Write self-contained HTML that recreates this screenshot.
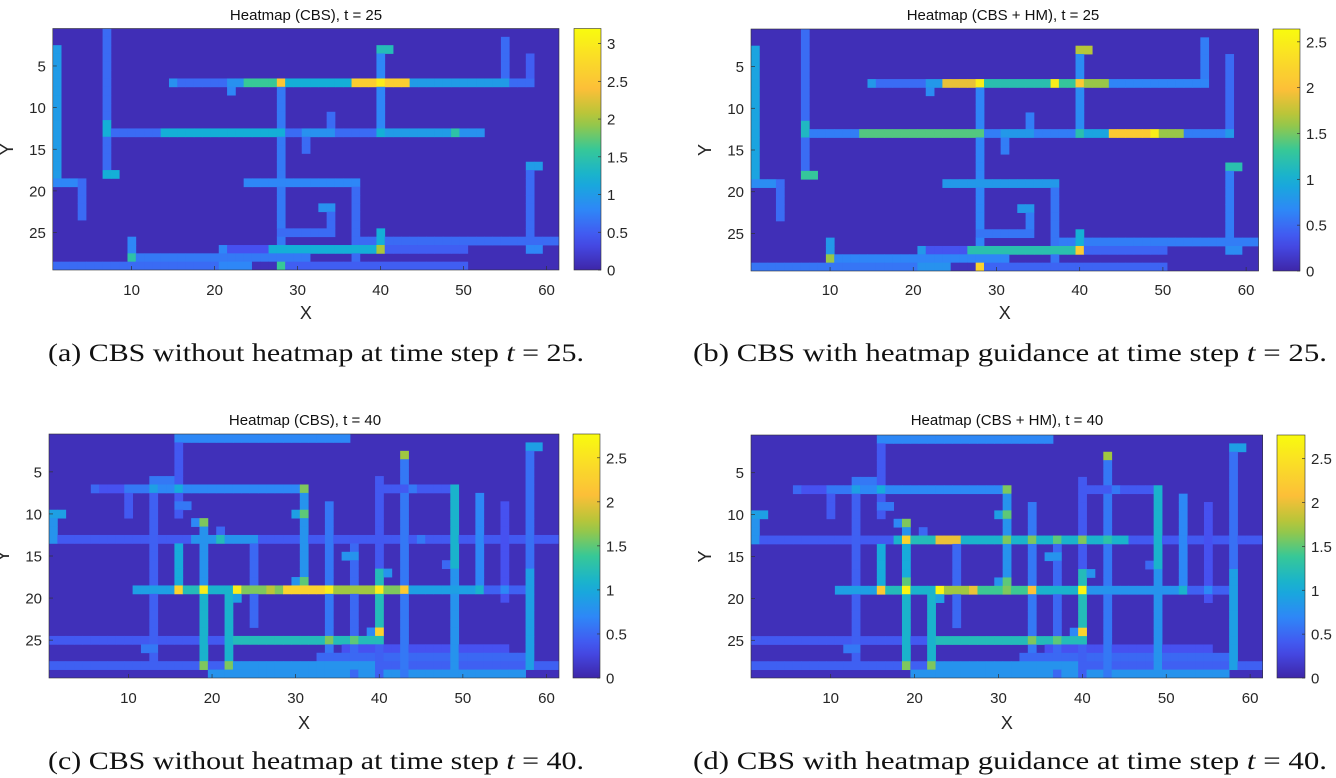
<!DOCTYPE html>
<html><head><meta charset="utf-8">
<style>
html,body{margin:0;padding:0;background:#fff;}
svg{display:block;}
text{font-family:"Liberation Sans",Arial,sans-serif;}
.cap{font-family:"Liberation Serif",serif;font-size:25px;fill:#111;}
</style></head>
<body>
<svg id="fig" width="1336" height="778" viewBox="0 0 1336 778" xmlns="http://www.w3.org/2000/svg">
<text class="cap" x="48" y="361" textLength="536" lengthAdjust="spacingAndGlyphs">(a) CBS without heatmap at time step <tspan font-style="italic">t</tspan> = 25.</text>
<text class="cap" x="693" y="361" textLength="634" lengthAdjust="spacingAndGlyphs">(b) CBS with heatmap guidance at time step <tspan font-style="italic">t</tspan> = 25.</text>
<text class="cap" x="48" y="769" textLength="536" lengthAdjust="spacingAndGlyphs">(c) CBS without heatmap at time step <tspan font-style="italic">t</tspan> = 40.</text>
<text class="cap" x="693" y="769" textLength="634" lengthAdjust="spacingAndGlyphs">(d) CBS with heatmap guidance at time step <tspan font-style="italic">t</tspan> = 40.</text>
</svg>
<script>
// ---- data: segments [x1,y1,x2,y2,value]; later entries paint over earlier ----
const xTicks = [10,20,30,40,50,60];
const yTicks = [5,10,15,20,25];
const titles = ["Heatmap (CBS), t = 25","Heatmap (CBS + HM), t = 25","Heatmap (CBS), t = 40","Heatmap (CBS + HM), t = 40"];
const cbarMax = [3.2,2.64,2.77,2.77];
const cbarTicksA = [0,0.5,1,1.5,2,2.5,3];
const cbarTicksB = [0,0.5,1,1.5,2,2.5];
const cbarTicksC = [0,0.5,1,1.5,2,2.5];
const cbarTicksD = [0,0.5,1,1.5,2,2.5];
const bgValue = [0.08,0.07,0.08,0.08];

const segsA = [
[1,3,1,19,1.0],[1,19,4,19,0.8],[4,19,4,23,0.6],
[7,1,7,18,0.6],[7,12,7,13,1.2],[7,18,8,18,1.2],
[15,7,15,7,0.9],[16,7,21,7,0.6],[22,7,23,7,0.9],[22,8,22,8,0.8],[24,7,27,7,1.6],[28,7,28,7,2.5],[29,7,36,7,1.2],[37,7,39,7,2.6],[40,7,40,7,3.0],[41,7,43,7,2.6],[44,7,55,7,1.0],[56,7,58,7,0.6],
[55,2,55,6,0.6],[58,4,58,6,0.5],
[40,3,40,6,0.8],[40,8,40,12,0.8],[40,3,41,3,1.4],
[28,8,28,29,0.7],
[8,13,13,13,0.6],[14,13,28,13,1.2],[29,13,30,13,0.6],[31,13,34,13,0.9],[35,13,39,13,0.6],[40,13,40,13,1.2],[41,13,48,13,1.0],[49,13,49,13,1.5],[50,13,52,13,0.9],
[34,11,34,12,0.6],[31,14,31,15,0.6],
[24,19,37,19,0.8],[37,20,37,29,0.6],
[58,17,58,27,0.6],[58,17,59,17,1.0],[58,27,59,27,0.8],
[34,22,34,25,0.6],[33,22,34,22,0.9],[28,25,34,25,0.6],
[38,26,61,26,0.6],
[21,27,21,27,0.8],[22,27,26,27,0.4],[27,27,39,27,1.2],[41,27,50,27,0.5],
[40,25,40,26,1.2],[40,27,40,27,2.0],
[10,26,10,27,0.8],[10,28,10,28,1.5],[11,28,31,28,0.7],
[1,29,20,29,0.6],[21,29,24,29,0.8],[25,29,27,29,0.1],[28,29,28,29,1.6],[29,29,50,29,0.5]
];
const segsB = [
[1,3,1,19,0.9],[1,19,4,19,0.7],[4,19,4,23,0.5],
[7,1,7,18,0.5],[7,12,7,13,1.1],[7,18,8,18,1.3],
[15,7,15,7,0.8],[16,7,21,7,0.5],[22,7,23,7,0.8],[22,8,22,8,0.7],[24,7,27,7,1.9],[28,7,28,7,2.5],[29,7,36,7,1.2],[37,7,37,7,2.5],[38,7,39,7,1.3],[40,7,40,7,2.1],[41,7,43,7,1.6],[44,7,55,7,0.65],
[55,2,55,6,0.6],[58,4,58,13,0.5],
[40,3,40,6,0.7],[40,8,40,12,0.7],[40,3,41,3,1.7],
[28,8,28,29,0.65],
[8,13,13,13,0.6],[14,13,28,13,1.4],[29,13,30,13,0.6],[31,13,34,13,0.8],[35,13,39,13,0.6],[40,13,40,13,1.2],[41,13,43,13,0.9],[44,13,48,13,2.1],[49,13,49,13,2.5],[50,13,52,13,1.6],[53,13,57,13,0.6],[58,13,58,13,0.8],
[34,11,34,12,0.6],[31,14,31,15,0.6],
[24,19,37,19,0.8],[37,20,37,29,0.55],
[58,17,58,27,0.6],[58,17,59,17,1.2],[58,27,59,27,0.7],
[34,22,34,25,0.6],[33,22,34,22,0.8],[28,25,34,25,0.55],
[38,26,61,26,0.6],
[21,27,21,27,0.8],[22,27,26,27,0.35],[27,27,39,27,1.2],[41,27,50,27,0.45],
[40,25,40,26,1.0],[40,27,40,27,2.1],
[10,26,10,27,0.8],[10,28,10,28,1.6],[11,28,31,28,0.65],
[1,29,20,29,0.55],[21,29,24,29,0.75],[25,29,27,29,0.1],[28,29,28,29,2.2],[29,29,50,29,0.45]
];
const segsC = [
[1,28,61,28,0.45],[36,26,55,26,0.35],[33,27,58,27,0.5],[20,29,57,29,0.8],[1,25,21,25,0.4],
[1,13,61,13,0.4],
[16,1,36,1,0.7],[16,2,16,10,0.4],[16,14,16,18,1.0],[16,9,17,9,0.6],
[58,2,58,16,0.55],[58,17,58,28,0.9],[58,2,59,2,0.9],
[43,3,43,29,0.6],[43,3,43,3,1.7],
[6,7,6,7,0.5],[7,7,9,7,0.35],[10,7,12,7,0.6],[13,7,13,7,0.9],[14,7,15,7,0.7],[16,7,16,7,1.0],[17,7,30,7,0.7],[31,7,31,7,1.6],[13,6,15,6,0.6],
[13,8,13,27,0.45],[10,8,10,10,0.4],[12,26,13,26,0.6],
[31,8,31,18,0.8],[30,10,30,10,0.9],[31,10,31,10,1.5],[30,18,30,18,0.8],[31,18,31,18,1.5],
[40,6,40,16,0.4],[40,17,40,23,1.2],[41,17,41,17,0.8],[40,24,40,24,2.3],[39,24,39,24,0.7],[40,26,40,29,0.45],
[40,7,48,7,0.4],[44,7,44,7,0.6],
[49,7,49,16,1.1],[49,17,49,29,0.8],[48,16,48,16,0.5],
[52,8,52,18,0.7],[55,9,55,20,0.35],
[34,9,34,26,0.6],
[1,10,2,10,0.9],[1,11,1,13,0.8],
[18,13,25,13,0.8],[19,13,19,13,1.6],[21,13,21,13,1.2],[21,12,21,12,0.5],[45,13,45,13,0.6],
[18,11,18,11,0.7],[19,11,19,11,1.6],[19,12,19,18,0.8],[19,20,19,27,1.1],[19,28,19,28,1.6],
[25,14,25,23,0.5],[37,14,37,29,0.5],[36,15,37,15,0.8],
[11,19,15,19,0.9],[16,19,16,19,2.3],[17,19,18,19,1.2],[19,19,19,19,2.6],[20,19,22,19,1.1],[23,19,23,19,2.6],[24,19,28,19,1.6],[27,19,27,19,1.8],[29,19,33,19,2.3],[34,19,34,19,2.6],[35,19,39,19,1.7],[40,19,40,19,2.6],[41,19,42,19,1.6],[43,19,43,19,2.2],[44,19,51,19,0.9],[52,19,52,19,1.1],[53,19,57,19,0.45],[55,19,55,19,0.7],
[22,20,22,27,1.1],[23,20,23,20,0.9],[22,28,22,28,1.6],
[23,25,39,25,1.2],[34,25,34,25,1.6],[37,25,37,25,1.5],[40,25,40,25,1.2],
[23,28,39,28,0.8]
];
const segsD = [
[1,28,61,28,0.45],[36,26,55,26,0.35],[33,27,58,27,0.5],[20,29,57,29,0.8],[1,25,21,25,0.4],
[1,13,61,13,0.4],
[16,1,36,1,0.7],[16,2,16,10,0.4],[16,14,16,18,1.0],[16,9,17,9,0.6],
[58,2,58,16,0.55],[58,17,58,28,0.9],[58,2,59,2,0.9],
[43,3,43,29,0.6],[43,3,43,3,1.7],
[6,7,6,7,0.5],[7,7,9,7,0.35],[10,7,12,7,0.6],[13,7,13,7,0.9],[14,7,15,7,0.7],[16,7,16,7,1.0],[17,7,30,7,0.7],[31,7,31,7,1.6],[13,6,15,6,0.6],
[13,8,13,27,0.45],[10,8,10,10,0.4],[12,26,13,26,0.6],
[31,8,31,18,0.8],[30,10,30,10,0.9],[31,10,31,10,1.5],[30,18,30,18,0.8],[31,18,31,18,1.5],
[40,6,40,16,0.4],[40,17,40,23,1.2],[41,17,41,17,0.8],[40,24,40,24,2.3],[39,24,39,24,0.7],[40,26,40,29,0.45],
[40,7,48,7,0.4],[44,7,44,7,0.6],
[49,7,49,16,1.1],[49,17,49,29,0.8],[48,16,48,16,0.5],
[52,8,52,18,0.7],[55,9,55,20,0.35],
[34,9,34,26,0.6],
[1,10,2,10,0.9],[1,11,1,13,0.8],
[18,13,45,13,1.1],[19,13,19,13,2.3],[20,13,22,13,1.2],[23,13,25,13,2.0],[31,13,31,13,1.6],[34,13,34,13,1.6],[37,13,37,13,1.5],[40,13,40,13,1.6],[43,13,43,13,1.3],[21,12,21,12,0.5],
[18,11,18,11,0.7],[19,11,19,11,1.6],[19,12,19,12,0.8],[19,14,19,18,1.0],[19,18,19,18,1.5],[19,20,19,27,1.1],[19,28,19,28,1.6],
[25,14,25,23,0.5],[37,14,37,29,0.5],[36,15,37,15,0.8],
[11,19,15,19,0.9],[16,19,16,19,2.2],[17,19,18,19,1.2],[19,19,19,19,2.7],[20,19,22,19,1.1],[23,19,23,19,2.7],[24,19,26,19,1.7],[27,19,27,19,2.0],[28,19,33,19,1.4],[31,19,31,19,1.6],[34,19,34,19,2.1],[35,19,39,19,1.1],[40,19,40,19,2.7],[41,19,51,19,0.8],[52,19,52,19,1.1],[53,19,57,19,0.45],[55,19,55,19,0.7],
[22,20,22,27,1.1],[23,20,23,20,0.9],[22,28,22,28,1.6],
[23,25,39,25,1.2],[34,25,34,25,1.6],[37,25,37,25,1.5],[40,25,40,25,1.2],
[23,28,39,28,0.8]
];
const allSegs = [segsA,segsB,segsC,segsD];
const allCbarTicks = [cbarTicksA,cbarTicksB,cbarTicksC,cbarTicksD];

// ---- layout (pixels) ----
const layout = [
 {L:52.8,R:559,T:28.5,B:270,cbL:574,cbR:601,titleX:306,titleY:20,xlabY:319,xtY:295},
 {L:751,R:1258.6,T:29,B:271,cbL:1273,cbR:1300,titleX:1003,titleY:20,xlabY:319,xtY:295},
 {L:49,R:559,T:434,B:678,cbL:573,cbR:600,titleX:305,titleY:425,xlabY:729,xtY:703},
 {L:751,R:1262.7,T:435,B:678,cbL:1277,cbR:1305,titleX:1007,titleY:425,xlabY:729,xtY:703}
];
const NX=61, NY=29;
const parula=[[0,[62,38,168]],[0.125,[70,80,240]],[0.25,[46,135,247]],[0.375,[20,175,215]],[0.5,[55,200,151]],[0.625,[170,199,57]],[0.75,[252,191,56]],[0.875,[250,220,40]],[1,[249,251,14]]];
function cmap(t){t=Math.max(0,Math.min(1,t));for(let i=1;i<parula.length;i++){if(t<=parula[i][0]){const a=parula[i-1],b=parula[i];const f=(t-a[0])/(b[0]-a[0]);return 'rgb('+a[1].map((c,k)=>Math.round(c+(b[1][k]-c)*f)).join(',')+')';}}return 'rgb(249,251,14)';}
const NS='http://www.w3.org/2000/svg';
const svg=document.getElementById('fig');
function mk(tag,attrs,parent){const e=document.createElementNS(NS,tag);for(const k in attrs)e.setAttribute(k,attrs[k]);(parent||svg).appendChild(e);return e;}
const letters=['a','b','c','d'];
layout.forEach((P,pi)=>{
  const g=mk('g',{});
  
  
  const cw=(P.R-P.L)/NX, ch=(P.B-P.T)/NY;
  const xs=c=>P.L+(c-1)*cw, ys=r=>P.T+(r-1)*ch;
  const maxV=cbarMax[pi];
  const grid=[];for(let r=0;r<=NY;r++){grid.push(new Array(NX+1).fill(null));}
  allSegs[pi].forEach(s=>{const [x1,y1,x2,y2,v]=s;for(let y=Math.min(y1,y2);y<=Math.max(y1,y2);y++)for(let x=Math.min(x1,x2);x<=Math.max(x1,x2);x++)if(y>=1&&y<=NY&&x>=1&&x<=NX)grid[y][x]=v;});
  const bg=mk('rect',{x:P.L,y:P.T,width:P.R-P.L,height:P.B-P.T,fill:cmap(bgValue[pi]/maxV)},g);
  
  
  for(let r=1;r<=NY;r++)for(let c=1;c<=NX;c++){const v=grid[r][c];if(v===null)continue;
    const w=Math.min(cw+0.4,P.R-xs(c)), h=Math.min(ch+0.4,P.B-ys(r));
    const cell=mk('rect',{x:xs(c).toFixed(2),y:ys(r).toFixed(2),width:w.toFixed(2),height:h.toFixed(2),fill:cmap(v/maxV)},g);
    
    }
  mk('rect',{x:P.L,y:P.T,width:P.R-P.L,height:P.B-P.T,fill:'none',stroke:'#333','stroke-width':0.6},g);
  xTicks.forEach(t=>{const x=P.L+(t-0.5)*cw;
    mk('line',{x1:x,x2:x,y1:P.B,y2:P.B-4,stroke:'#333','stroke-width':0.7},g);
    const tx=mk('text',{x:x,y:P.xtY,'text-anchor':'middle','font-size':15,fill:'#262626'},g);tx.textContent=t;
    
    });
  yTicks.forEach(t=>{const y=P.T+(t-0.5)*ch;
    mk('line',{x1:P.L,x2:P.L+4,y1:y,y2:y,stroke:'#333','stroke-width':0.7},g);
    const ty=mk('text',{x:P.L-7,y:y+5.5,'text-anchor':'end','font-size':15,fill:'#262626'},g);ty.textContent=t;
    
    });
  const tt=mk('text',{x:P.titleX,y:P.titleY,'text-anchor':'middle','font-size':15,fill:'#111'},g);tt.textContent=titles[pi];
  
  
  const xl=mk('text',{x:(P.L+P.R)/2,y:P.xlabY,'text-anchor':'middle','font-size':18,fill:'#262626'},g);xl.textContent='X';
  
  
  const ym=(P.T+P.B)/2, yx=P.L-40;
  const yl=mk('text',{x:yx,y:ym,'text-anchor':'middle','font-size':18,fill:'#262626',transform:'rotate(-90 '+yx+' '+ym+')'},g);yl.textContent='Y';
  
  
  const gid='cg'+pi;const defs=mk('defs',{},g);const lg=mk('linearGradient',{id:gid,x1:0,y1:1,x2:0,y2:0},defs);
  for(let i=0;i<=20;i++)mk('stop',{offset:i/20,'stop-color':cmap(i/20)},lg);
  const cb=mk('rect',{x:P.cbL,y:P.T,width:P.cbR-P.cbL,height:P.B-P.T,fill:'url(#'+gid+')',stroke:'#333','stroke-width':0.6},g);
  
  
  allCbarTicks[pi].forEach(t=>{const y=P.B-(t/maxV)*(P.B-P.T);
    mk('line',{x1:P.cbR-3,x2:P.cbR,y1:y,y2:y,stroke:'#333','stroke-width':0.7},g);
    const ct=mk('text',{x:P.cbR+6,y:y+5.5,'font-size':15,fill:'#262626'},g);ct.textContent=t;
    
    });
});
</script>
</body></html>
